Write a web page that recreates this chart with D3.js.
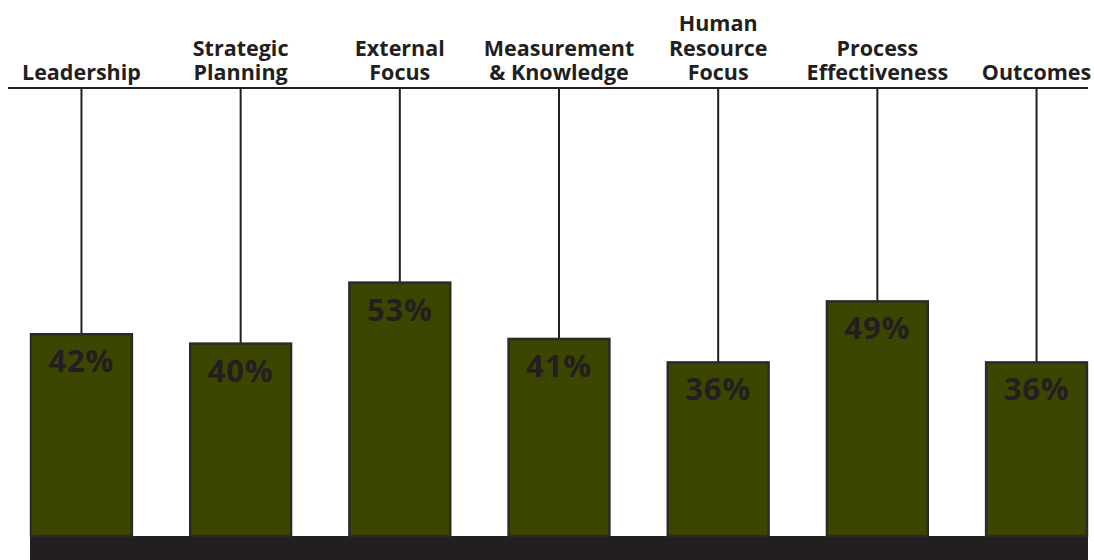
<!DOCTYPE html>
<html>
<head>
<meta charset="utf-8">
<script src="https://cdn.jsdelivr.net/npm/d3@7"></script>
<style>
  html, body { margin: 0; padding: 0; background: #fff; }
  svg { display: block; }
</style>
</head>
<body>
<div class="chart"></div>
<script>
// categories (each label split into lines) and values in percent
const categories = [
    "Leadership",
    "Strategic Planning",
    "External Focus",
    "Measurement & Knowledge",
    "Human Resource Focus",
    "Process Effectiveness",
    "Outcomes"
];
const labelLines = [
    ["Leadership"],
    ["Strategic", "Planning"],
    ["External", "Focus"],
    ["Measurement", "& Knowledge"],
    ["Human", "Resource", "Focus"],
    ["Process", "Effectiveness"],
    ["Outcomes"]
];
const values = [42, 40, 53, 41, 36, 49, 36];

const width = 1094;
const height = 560;
const ink = "#231f20";
const barColor = "#3c4600";
const font = "'Open Sans', 'Noto Sans', sans-serif";

const topLine = 88;
const baseline = 536;

const svg = d3.select(".chart")
    .append("svg")
    .attr("width", width)
    .attr("height", height);

const xScale = d3.scaleBand()
    .domain(categories)
    .range([31, 1087])
    .paddingInner(0.366)
    .paddingOuter(0);

const yScale = d3.scaleLinear()
    .domain([-1, 100])
    .range([baseline, baseline - 474]);

// dark floor band
svg.append("rect")
    .attr("x", 30)
    .attr("y", baseline)
    .attr("width", 1058)
    .attr("height", height - baseline)
    .attr("fill", ink);

// horizontal rule under the headings
svg.append("line")
    .attr("x1", 8)
    .attr("x2", 1088)
    .attr("y1", topLine)
    .attr("y2", topLine)
    .attr("stroke", ink)
    .attr("stroke-width", 2.2);

const groups = svg.selectAll("g.cat")
    .data(categories.map((c, i) => ({ cat: c, value: values[i], lines: labelLines[i] })))
    .enter()
    .append("g")
    .attr("class", "cat");

const cx = (d) => xScale(d.cat) + xScale.bandwidth() / 2;

// hanging lines from the rule to the top of each bar
groups.append("line")
    .attr("x1", cx)
    .attr("x2", cx)
    .attr("y1", topLine)
    .attr("y2", (d) => yScale(d.value))
    .attr("stroke", ink)
    .attr("stroke-width", 2);

groups.append("rect")
    .attr("x", (d) => xScale(d.cat))
    .attr("y", (d) => yScale(d.value))
    .attr("width", xScale.bandwidth())
    .attr("height", (d) => baseline - yScale(d.value))
    .attr("fill", barColor)
    .attr("stroke", "#2b2a2a")
    .attr("stroke-width", 2.4);

groups.append("text")
    .attr("x", cx)
    .attr("y", (d) => yScale(d.value) + 38)
    .attr("text-anchor", "middle")
    .attr("font-family", font)
    .attr("font-weight", 700)
    .attr("font-size", 31)
    .attr("letter-spacing", 0.8)
    .attr("fill", ink)
    .text((d) => d.value + "%");

// headings, bottom line sits just above the rule
groups.append("text")
    .attr("text-anchor", "middle")
    .attr("font-family", font)
    .attr("font-weight", 700)
    .attr("font-size", 21.5)
    .attr("fill", ink)
    .selectAll("tspan")
    .data((d) => d.lines.map((t, j) => ({ t, j, n: d.lines.length, x: cx(d) })))
    .enter()
    .append("tspan")
    .attr("x", (d) => d.x)
    .attr("y", (d) => 80 - (d.n - 1 - d.j) * 24.5)
    .text((d) => d.t);
</script>
</body>
</html>
